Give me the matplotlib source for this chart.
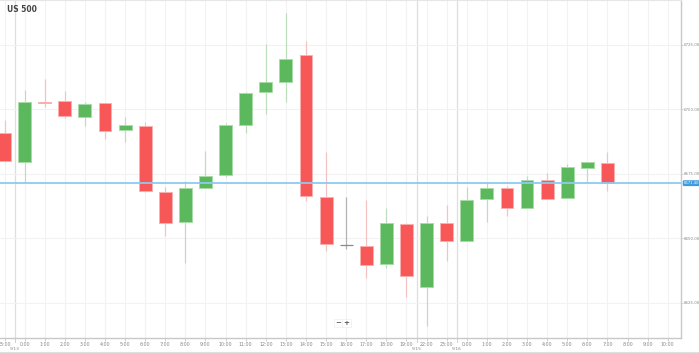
import numpy as np
import matplotlib
matplotlib.use("Agg")
import matplotlib.pyplot as plt
from matplotlib.lines import Line2D

# hourly candles, US 500
hours = ["23:00", "0:00", "1:00", "2:00", "3:00", "4:00", "5:00", "6:00", "7:00",
         "8:00", "9:00", "10:00", "11:00", "12:00", "13:00", "14:00", "15:00",
         "16:00", "17:00", "18:00", "19:00", "22:00", "23:00", "0:00", "1:00",
         "2:00", "3:00", "4:00", "5:00", "6:00", "7:00", "8:00", "9:00", "10:00"]
opens = [6691.0, 6679.8, 6702.9, 6703.3, 6697.2, 6702.4, 6692.1, 6693.7, 6668.1,
         6656.3, 6669.7, 6674.6, 6693.9, 6706.9, 6710.5, 6720.9, 6666.2, 6647.5,
         6647.2, 6640.0, 6655.7, 6631.3, 6656.1, 6649.0, 6665.2, 6669.6, 6661.9,
         6672.6, 6665.6, 6677.4, 6679.1]
closes = [6679.9, 6702.8, 6702.6, 6697.5, 6702.1, 6691.8, 6694.1, 6668.4, 6656.1,
          6669.5, 6674.3, 6694.1, 6706.5, 6710.7, 6719.7, 6666.5, 6647.8, 6647.5,
          6639.7, 6655.9, 6635.5, 6655.9, 6649.1, 6664.9, 6669.5, 6661.7, 6672.7,
          6665.3, 6677.7, 6679.5, 6671.4]
highs = [6695.9, 6707.6, 6711.7, 6707.3, 6702.8, 6702.6, 6697.0, 6695.2, 6669.8,
         6672.4, 6684.0, 6694.6, 6706.9, 6725.4, 6737.3, 6726.7, 6683.3, 6666.2,
         6664.9, 6661.9, 6655.9, 6658.7, 6663.0, 6669.8, 6671.8, 6670.3, 6674.3,
         6675.5, 6678.8, 6679.5, 6683.4]
lows = [6679.8, 6672.0, 6701.1, 6696.6, 6693.7, 6688.6, 6687.5, 6667.9, 6651.0,
        6640.6, 6669.7, 6673.7, 6691.0, 6698.3, 6703.0, 6664.4, 6645.3, 6645.8,
        6634.6, 6638.4, 6627.4, 6616.2, 6641.4, 6649.0, 6656.5, 6658.8, 6661.9,
        6665.3, 6665.6, 6671.9, 6668.4]
date_breaks = [0.5, 20.5, 22.5]
date_labels = ["5/13", "5/15", "5/16"]
price_ticks = [6625, 6650, 6675, 6700, 6725]
last_price = 6671.40

GREEN = "#5cb85c"
RED = "#f75757"
GRAY = "#8a8a8a"

fig = plt.figure(figsize=(6.99, 3.53), dpi=100)
ax = fig.add_axes([0.0, 15 / 353, 681 / 699, 1 - 15 / 353])

x = np.arange(len(opens))
o = np.array(opens)
c = np.array(closes)
up = c > o
down = c < o
flat = c == o

# grid
for i in range(len(hours)):
    ax.axvline(i, color="#f2f2f2", lw=0.8, zorder=0)
for b in date_breaks:
    ax.axvline(b, color="#dedede", lw=0.9, zorder=0)
for p in price_ticks:
    ax.axhline(p, color="#f2f2f2", lw=0.8, zorder=0)

# wicks
ax.vlines(x[up], np.array(lows)[up], np.array(highs)[up], color=GREEN, alpha=0.35, lw=0.9, zorder=1)
ax.vlines(x[down], np.array(lows)[down], np.array(highs)[down], color=RED, alpha=0.3, lw=0.9, zorder=1)
ax.vlines(x[flat], np.array(lows)[flat], np.array(highs)[flat], color=GRAY, alpha=0.6, lw=0.9, zorder=1)

# bodies
w = 0.64
ax.bar(x[up], (c - o)[up], bottom=o[up], width=w, color=GREEN,
       edgecolor="#a8dca8", linewidth=0.7, zorder=2)
ax.bar(x[down], (o - c)[down], bottom=c[down], width=w, color=RED,
       edgecolor="#fbb0b0", linewidth=0.7, zorder=2)
ax.hlines(o[flat], x[flat] - w / 2, x[flat] + w / 2, color=GRAY, lw=0.9, zorder=2)

# current price line
ax.axhline(last_price, color="#8ccaf2", lw=1.3, zorder=3)
ax.annotate(f"{last_price:.2f}", xy=(1.004, last_price), xycoords=("axes fraction", "data"),
            ha="left", va="center", fontsize=2.7, color="white", annotation_clip=False,
            bbox=dict(boxstyle="round,pad=0.25,rounding_size=0.35", fc="#3d9be0", ec="none"))

ax.set_xlim(-0.224, 33.66)
ax.set_ylim(6611.4, 6742.4)

ax.set_xticks(np.arange(len(hours)))
ax.set_xticklabels(hours, fontsize=3.4, color="#888")
ax.yaxis.tick_right()
ax.set_yticks(price_ticks)
ax.set_yticklabels([f"{p:.2f}" for p in price_ticks], fontsize=2.9, color="#888")
ax.tick_params(axis="x", length=2, width=0.5, color="#bbb", pad=1)
ax.tick_params(axis="y", length=1.5, width=0.5, color="#bbb", pad=0.8)

ax.spines["left"].set_visible(False)
ax.spines["top"].set_color("#e6e6e6")
ax.spines["right"].set_color("#c8c8c8")
ax.spines["bottom"].set_color("#c8c8c8")
ax.spines["right"].set_linewidth(1.0)
ax.spines["bottom"].set_linewidth(1.0)

# date labels under separators
for b, lab in zip(date_breaks, date_labels):
    ax.text(b, -10.5 / 338, lab, transform=ax.get_xaxis_transform(), ha="center", va="center",
            fontsize=3.2, color="#888", clip_on=False)
    ax.plot([b, b], [0, -0.012], transform=ax.get_xaxis_transform(), color="#bbb",
            lw=0.5, clip_on=False)

# title
ax.text(7 / 681, 1 - 9 / 338, "US 500", transform=ax.transAxes, ha="left", va="center",
        fontsize=5.5, fontweight="bold", color="#444")

# zoom buttons
for bx, sym in [(338.5, "−"), (346.5, "+")]:
    fig.text(bx / 699, 1 - 323 / 353, sym, ha="center", va="center", fontsize=5,
             color="#555", fontweight="bold",
             bbox=dict(boxstyle="square,pad=0.2", fc="white", ec="#eeeeee", lw=0.5))

# bottom border
fig.add_artist(Line2D([0, 1], [1.0 / 353, 1.0 / 353], color="#e0e0e0", lw=0.8))

fig.savefig("out.png", dpi=100)
